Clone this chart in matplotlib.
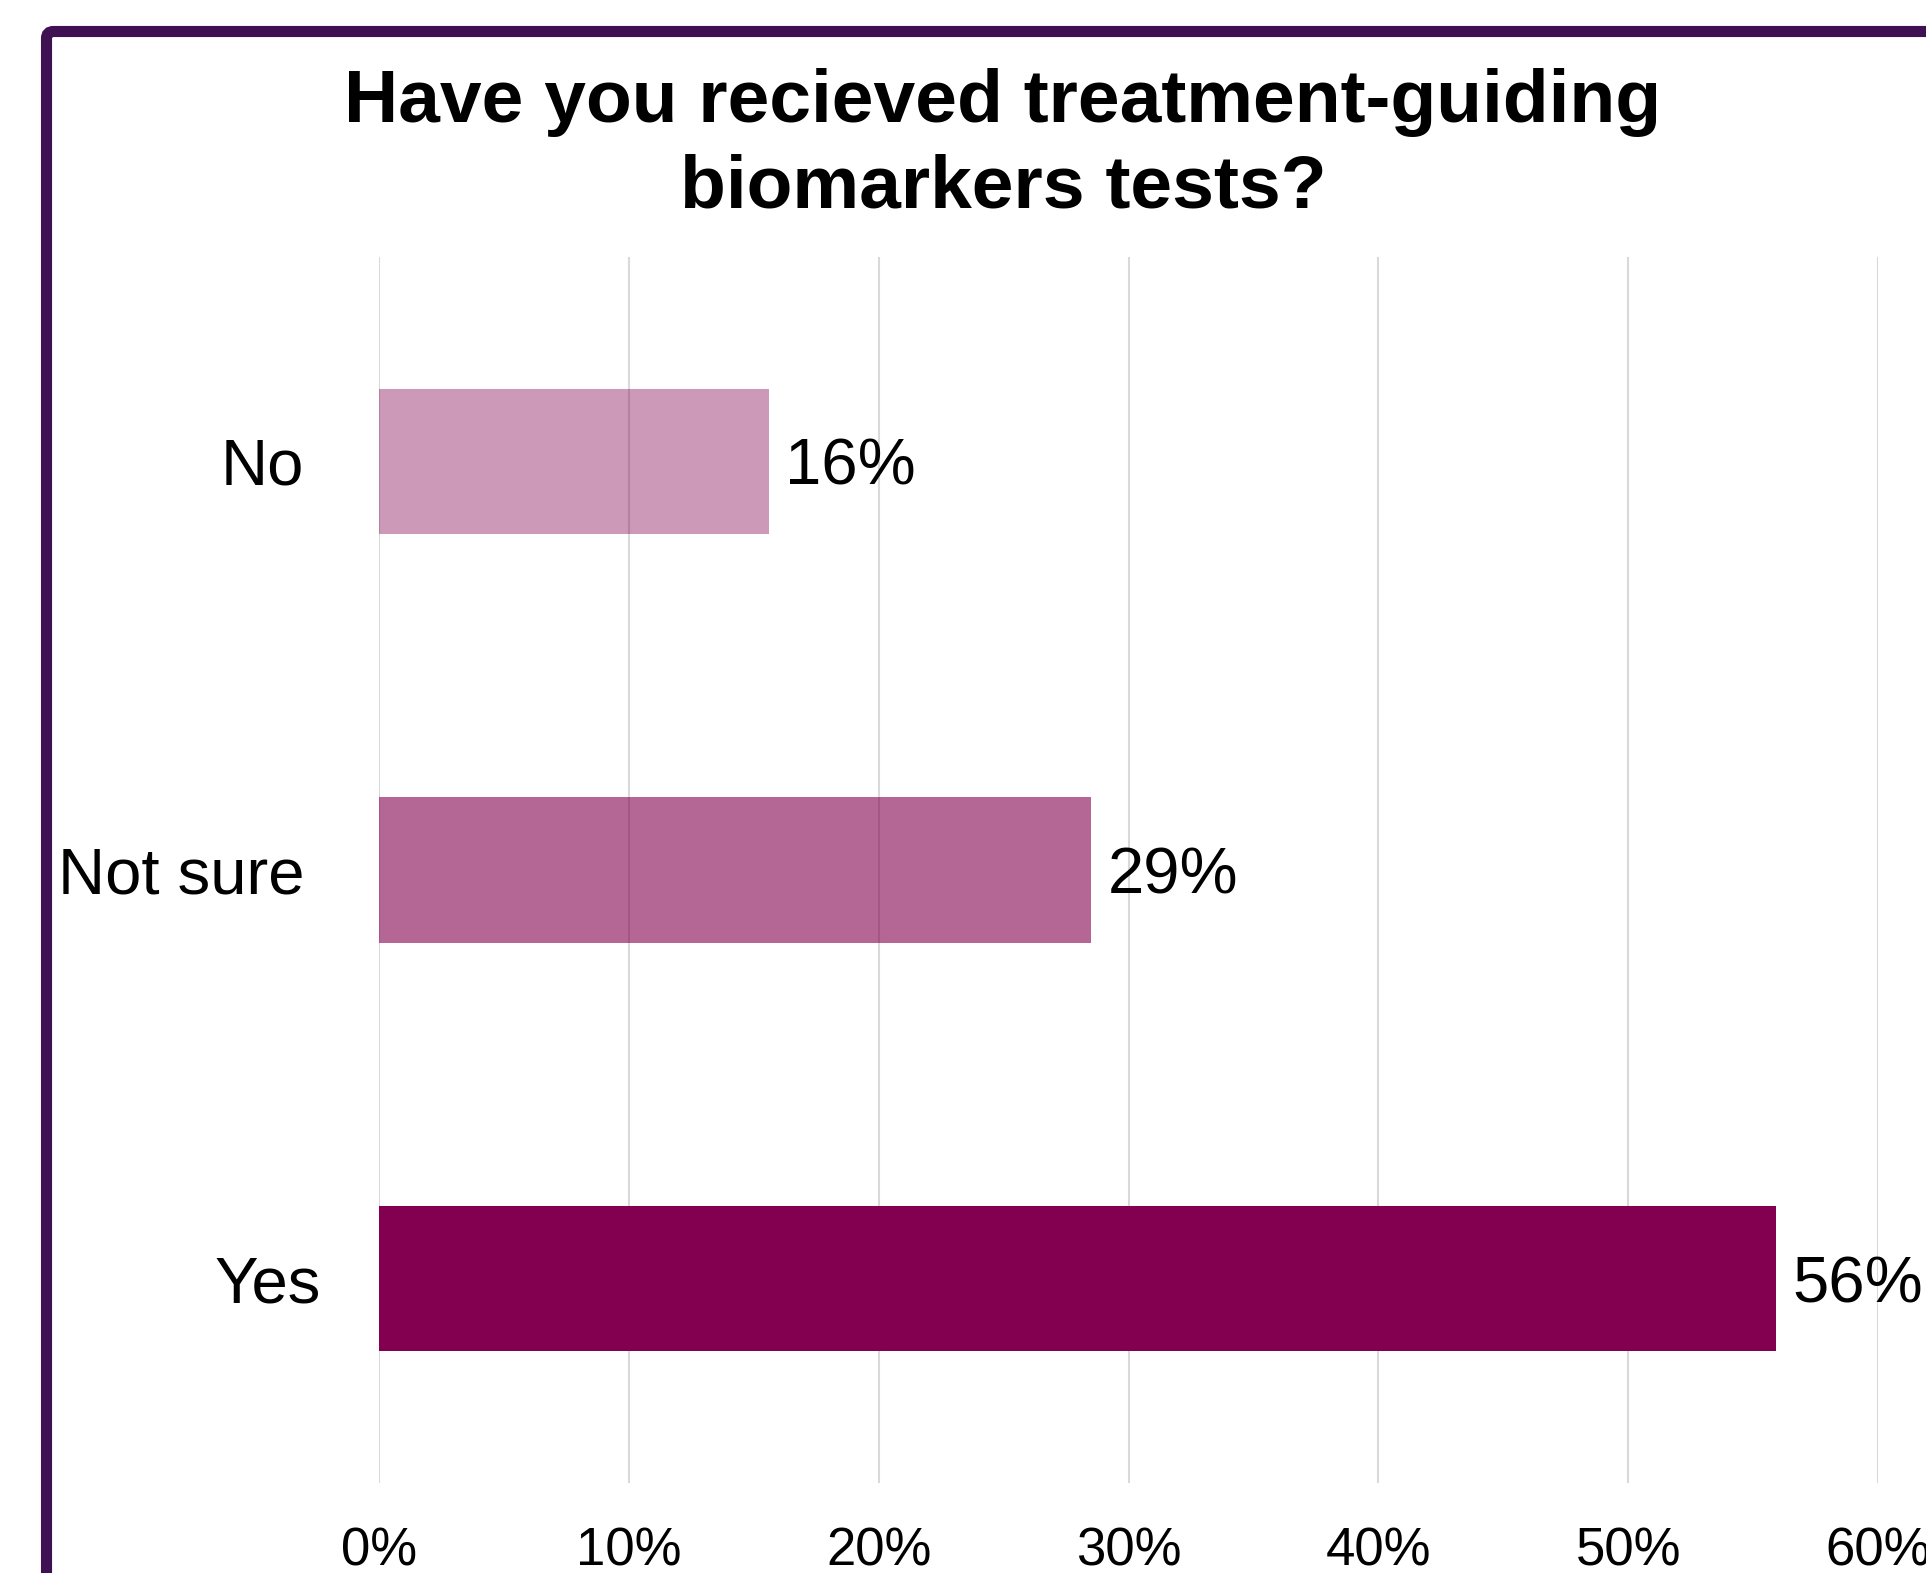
import matplotlib
matplotlib.use("Agg")
import matplotlib.pyplot as plt
from matplotlib.patches import FancyBboxPatch
from matplotlib.transforms import IdentityTransform, ScaledTranslation
from matplotlib.colors import to_rgba

plt.rcParams['font.family'] = ['Liberation Sans', 'DejaVu Sans']

# Data
categories = ["Yes", "Not sure", "No"]
values = [0.559, 0.285, 0.156]
value_labels = ["56%", "29%", "16%"]
alphas = [1.0, 0.6, 0.4]
x_ticks = [0, 0.1, 0.2, 0.3, 0.4, 0.5, 0.6]
x_tick_labels = ["0%", "10%", "20%", "30%", "40%", "50%", "60%"]
title_lines = ["Have you recieved treatment-guiding", "biomarkers tests?"]

W, H = 1926, 1573
DPI = 100
fig = plt.figure(figsize=(W / DPI, H / DPI), dpi=DPI)
fig.patch.set_facecolor("white")

# Border (rounded, extending past right & bottom edges)
border = FancyBboxPatch((46.5, -200), 2300, (H - 31.5) + 200,
                        boxstyle="round,pad=0,rounding_size=7",
                        transform=IdentityTransform(), fill=False,
                        edgecolor="#3F1052", linewidth=8.0, zorder=10)
fig.patches.append(border)

# Title
fig.text(1003 / W, 1 - 122 / H, title_lines[0], ha="center", va="baseline",
         fontsize=54, fontweight="bold", color="black")
fig.text(1003 / W, 1 - 207 / H, title_lines[1], ha="center", va="baseline",
         fontsize=54, fontweight="bold", color="black")

ax = fig.add_axes([379 / W, 90 / H, 1499 / W, 1226 / H])
base = "#82004F"
colors = [to_rgba(base, a) for a in alphas]
bars = ax.barh(range(len(categories)), values, height=0.355, color=colors,
               edgecolor="none", zorder=2)
texts = ax.bar_label(bars, labels=value_labels, padding=12, fontsize=47, color="black")
for t in texts:
    t.set_va("center_baseline")

ax.set_xlim(0, 0.6)
ax.set_ylim(-0.5, 2.5)
ax.set_xticks(x_ticks)
ax.set_xticklabels(x_tick_labels)
ax.set_yticks(range(len(categories)))
ax.set_yticklabels(categories)
ax.tick_params(axis="x", length=0, pad=31, labelsize=38, colors="black")
ax.tick_params(axis="y", length=0, pad=54, labelsize=47, colors="black")
ax.xaxis.grid(True, color="#D9D9D9", linewidth=1.5, zorder=0)
ax.yaxis.grid(False)
ax.set_axisbelow(True)
for s in ax.spines.values():
    s.set_visible(False)

# "Yes" label sits a bit further right in the reference
for lbl in ax.get_yticklabels():
    if lbl.get_text() == "Yes":
        lbl.set_transform(lbl.get_transform() + ScaledTranslation(17 / DPI, 0, fig.dpi_scale_trans))

fig.savefig("out.png", dpi=DPI)
